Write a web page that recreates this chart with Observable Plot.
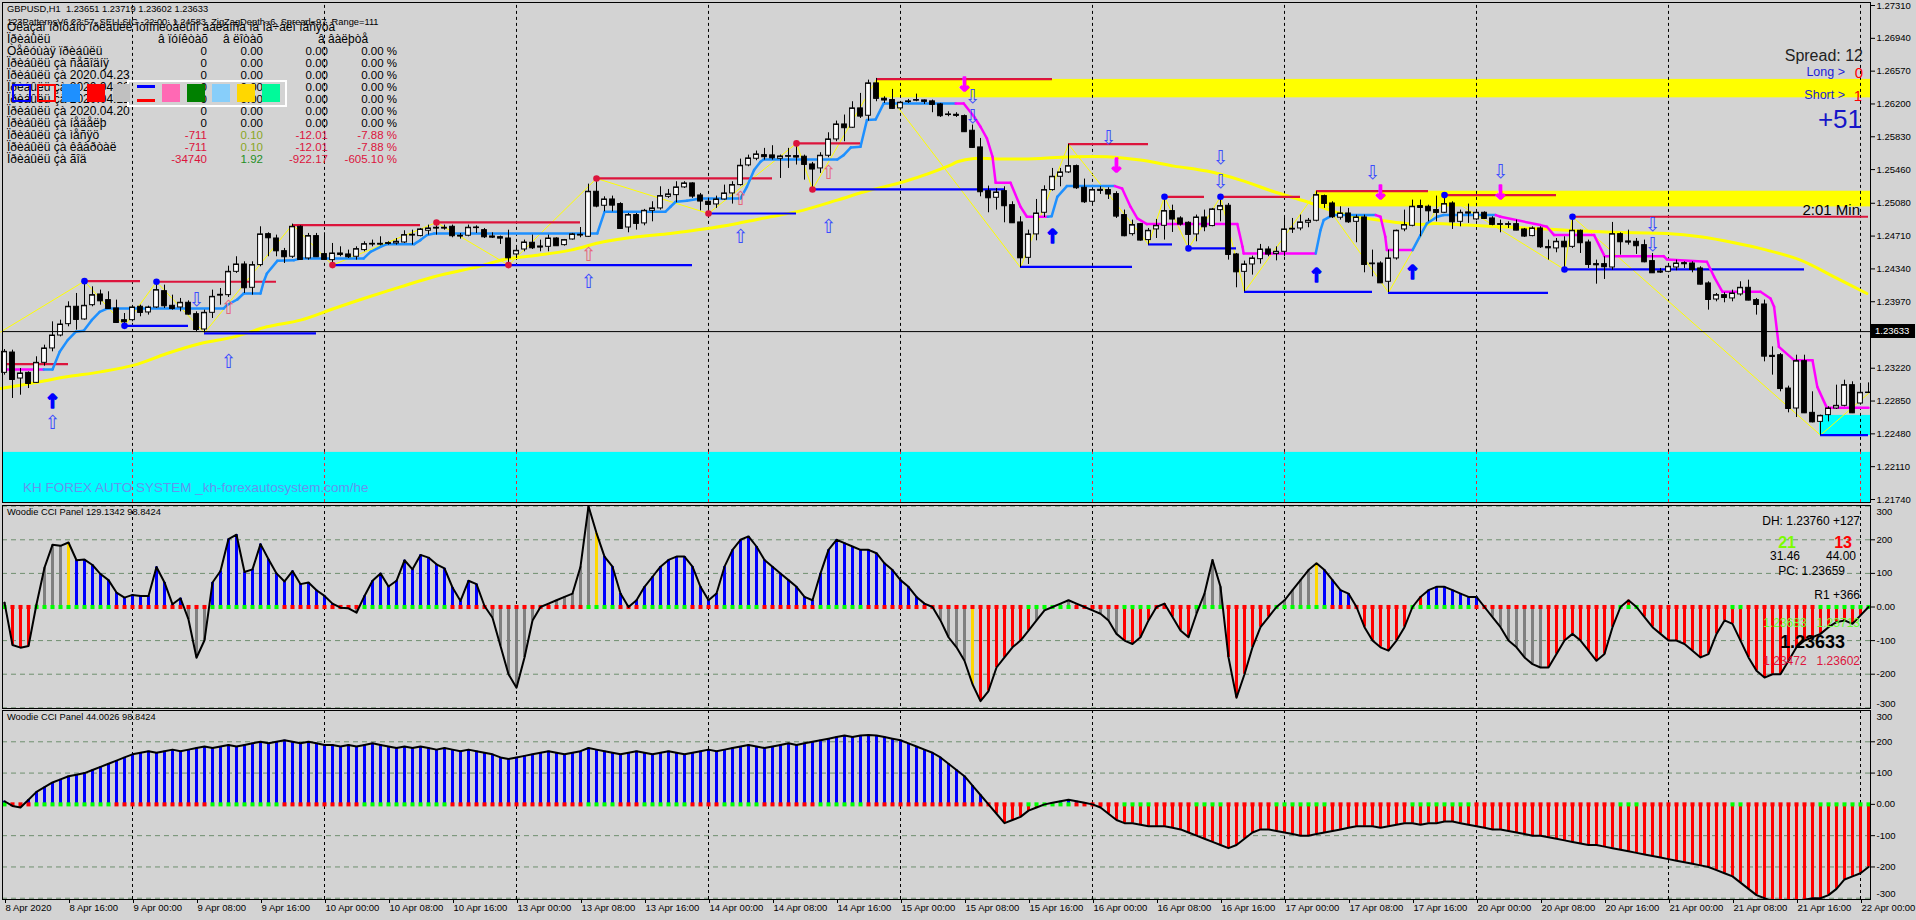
<!DOCTYPE html>
<html>
<head>
<meta charset="utf-8">
<script src="https://cdn.jsdelivr.net/npm/d3@7"></script>
<script src="https://cdn.jsdelivr.net/npm/@observablehq/plot@0.6"></script>
<style>
html,body{margin:0;padding:0;background:#d3d3d3;}
#wrap{position:relative;width:1916px;height:920px;background:#d3d3d3;overflow:hidden;font-family:"Liberation Sans",Arial,sans-serif;}
#wrap svg{position:absolute;left:0;}
.t{position:absolute;white-space:pre;line-height:1;}
.b{position:absolute;box-sizing:border-box;}
</style>
</head>
<body>
<div id="wrap"></div>
<script>
// ---------------- DATA ----------------
const opens = [1.23168,1.23397,1.23104,1.23168,1.23055,1.23281,1.23443,1.23589,1.23717,1.23913,
1.23770,1.23931,1.24052,1.23988,1.23894,1.23762,1.23762,1.23913,1.23849,1.23905,
1.24089,1.23924,1.23905,1.23958,1.23830,1.23657,1.23845,1.24040,1.24044,1.24307,
1.24390,1.24127,1.24383,1.24732,1.24683,1.24540,1.24477,1.24815,1.24458,1.24710,
1.24507,1.24439,1.24514,1.24503,1.24477,1.24552,1.24616,1.24623,1.24623,1.24627,
1.24638,1.24717,1.24710,1.24770,1.24796,1.24804,1.24815,1.24714,1.24714,1.24800,
1.24777,1.24706,1.24698,1.24683,1.24503,1.24559,1.24635,1.24593,1.24589,1.24683,
1.24608,1.24672,1.24717,1.24702,1.25210,1.25052,1.25123,1.25071,1.24807,1.24947,
1.24853,1.24995,1.25022,1.25153,1.25172,1.25259,1.25304,1.25168,1.25097,1.25067,
1.25123,1.25191,1.25285,1.25507,1.25582,1.25623,1.25620,1.25582,1.25608,1.25612,
1.25605,1.25518,1.25473,1.25616,1.25800,1.25969,1.25932,1.26150,1.26067,1.26432,
1.26259,1.26244,1.26150,1.26221,1.26240,1.26240,1.26229,1.26195,1.26075,1.26078,
1.26063,1.25898,1.25710,1.25217,1.25142,1.25217,1.25059,1.24864,1.24465,1.24729,
1.24973,1.25229,1.25379,1.25428,1.25499,1.25255,1.25097,1.25232,1.25229,1.25184,
1.24947,1.24732,1.24845,1.24665,1.24785,1.24826,1.24992,1.24909,1.24860,1.24729,
1.24920,1.24823,1.25003,1.25052,1.24503,1.24307,1.24390,1.24450,1.24559,1.24507,
1.24533,1.24785,1.24796,1.24860,1.24883,1.25161,1.25078,1.24917,1.24965,1.24871,
1.24920,1.24401,1.24401,1.24195,1.24458,1.24785,1.24826,1.25048,1.25041,1.25003,
1.24973,1.25078,1.24871,1.24977,1.24898,1.24973,1.24909,1.24845,1.24845,1.24845,
1.24785,1.24710,1.24796,1.24586,1.24571,1.24646,1.24589,1.24770,1.24638,1.24394,
1.24394,1.24356,1.24732,1.24650,1.24646,1.24608,1.24428,1.24311,1.24307,1.24356,
1.24405,1.24401,1.24345,1.24176,1.23995,1.24044,1.24007,1.24052,1.24127,1.23988,
1.23939,1.23360,1.23367,1.22991,1.22766,1.23300,1.22717,1.22615,1.22691,1.22766,
1.22796,1.23029,1.22822,1.22943];
const highs = [1.23431,1.23424,1.23217,1.23179,1.23349,1.23480,1.23743,1.23762,1.23969,1.24063,
1.24195,1.24138,1.24101,1.24082,1.23988,1.23837,1.23920,1.23931,1.23920,1.24195,
1.24157,1.24044,1.24007,1.23980,1.23856,1.23875,1.24101,1.24119,1.24371,1.24477,
1.24420,1.24420,1.24815,1.24747,1.24721,1.24571,1.24845,1.24826,1.24740,1.24740,
1.24747,1.24627,1.24589,1.24552,1.24589,1.24646,1.24665,1.24702,1.24646,1.24683,
1.24770,1.24777,1.24796,1.24834,1.24871,1.24834,1.24834,1.24740,1.24834,1.24826,
1.24796,1.24747,1.24710,1.24777,1.24589,1.24665,1.24721,1.24665,1.24721,1.24691,
1.24672,1.24740,1.24807,1.25296,1.25360,1.25153,1.25161,1.25086,1.24965,1.24965,
1.25011,1.25097,1.25266,1.25236,1.25323,1.25323,1.25311,1.25191,1.25135,1.25161,
1.25285,1.25323,1.25578,1.25623,1.25669,1.25699,1.25729,1.25623,1.25699,1.25755,
1.25623,1.25541,1.25650,1.25875,1.26007,1.26075,1.26225,1.26319,1.26469,1.26488,
1.26281,1.26364,1.26225,1.26251,1.26311,1.26244,1.26244,1.26206,1.26112,1.26101,
1.26075,1.25962,1.25811,1.25274,1.25247,1.25266,1.25097,1.24928,1.24777,1.25123,
1.25277,1.25473,1.25473,1.25744,1.25511,1.25353,1.25247,1.25266,1.25255,1.25210,
1.25003,1.24890,1.24853,1.24796,1.24898,1.25153,1.25059,1.24928,1.24871,1.24947,
1.25003,1.25022,1.25153,1.25078,1.24514,1.24428,1.24484,1.24616,1.24589,1.24589,
1.24920,1.24909,1.24947,1.24909,1.25210,1.25172,1.25097,1.25041,1.25022,1.24947,
1.24947,1.24552,1.24420,1.24552,1.24778,1.25003,1.25116,1.25116,1.25059,1.25161,
1.25184,1.25097,1.25003,1.25071,1.24995,1.24984,1.24928,1.24890,1.24871,1.24890,
1.24796,1.24815,1.24815,1.24665,1.24683,1.24702,1.24928,1.24778,1.24665,1.24439,
1.24477,1.24864,1.24747,1.24777,1.24683,1.24665,1.24514,1.24345,1.24401,1.24439,
1.24420,1.24420,1.24364,1.24195,1.24063,1.24070,1.24101,1.24195,1.24213,1.24007,
1.23988,1.23461,1.23386,1.23018,1.23367,1.23367,1.22954,1.22691,1.22785,1.23029,
1.23085,1.23067,1.23029,1.23055];
const lows = [1.23142,1.22879,1.22916,1.22991,1.23048,1.23243,1.23405,1.23574,1.23687,1.23649,
1.23762,1.23913,1.23931,1.23883,1.23725,1.23698,1.23743,1.23800,1.23819,1.23894,
1.23894,1.23875,1.23856,1.23819,1.23631,1.23619,1.23781,1.23931,1.24018,1.24289,
1.24063,1.24044,1.24364,1.24477,1.24477,1.24401,1.24458,1.24439,1.24439,1.24469,
1.24439,1.24375,1.24477,1.24458,1.24439,1.24533,1.24589,1.24601,1.24608,1.24608,
1.24627,1.24608,1.24702,1.24721,1.24721,1.24777,1.24691,1.24676,1.24702,1.24740,
1.24683,1.24683,1.24616,1.24383,1.24458,1.24533,1.24559,1.24533,1.24533,1.24597,
1.24597,1.24665,1.24691,1.24695,1.25029,1.24984,1.24984,1.24789,1.24747,1.24777,
1.24826,1.24871,1.25003,1.25135,1.25086,1.25247,1.25135,1.24995,1.24965,1.25022,
1.25116,1.25071,1.25274,1.25492,1.25560,1.25567,1.25567,1.25360,1.25473,1.25511,
1.25341,1.25236,1.25417,1.25593,1.25774,1.25774,1.25924,1.26037,1.26007,1.26225,
1.26206,1.26139,1.26139,1.26206,1.26225,1.26195,1.26101,1.26048,1.26056,1.26048,
1.25879,1.25699,1.25153,1.24973,1.25003,1.24860,1.24853,1.24356,1.24390,1.24657,
1.24920,1.25217,1.25266,1.25417,1.25236,1.25078,1.25078,1.25180,1.25123,1.24909,
1.24702,1.24710,1.24653,1.24608,1.24683,1.24665,1.24751,1.24823,1.24571,1.24646,
1.24759,1.24815,1.24871,1.24439,1.24127,1.24082,1.24270,1.24394,1.24477,1.24431,
1.24477,1.24740,1.24770,1.24804,1.24871,1.25022,1.24909,1.24890,1.24853,1.24635,
1.24296,1.24251,1.24176,1.24074,1.24439,1.24759,1.24815,1.24702,1.24871,1.24871,
1.24965,1.24785,1.24815,1.24853,1.24883,1.24898,1.24826,1.24747,1.24796,1.24770,
1.24695,1.24702,1.24571,1.24439,1.24522,1.24334,1.24571,1.24514,1.24345,1.24168,
1.24221,1.24326,1.24495,1.24608,1.24503,1.24409,1.24289,1.24289,1.24296,1.24319,
1.24345,1.24296,1.24157,1.23875,1.23969,1.23958,1.23969,1.24033,1.23980,1.23819,
1.23292,1.23142,1.22954,1.22717,1.22664,1.22709,1.22604,1.22465,1.22615,1.22755,
1.22785,1.22709,1.22803,1.22935];
const closes = [1.23405,1.23093,1.23161,1.23048,1.23281,1.23443,1.23589,1.23713,1.23913,1.23770,
1.23924,1.24044,1.23980,1.23894,1.23736,1.23743,1.23905,1.23849,1.23905,1.24101,
1.23924,1.23894,1.23958,1.23830,1.23657,1.23845,1.24025,1.24048,1.24307,1.24390,
1.24127,1.24383,1.24729,1.24691,1.24544,1.24477,1.24815,1.24447,1.24710,1.24477,
1.24447,1.24514,1.24503,1.24477,1.24563,1.24619,1.24623,1.24619,1.24631,1.24646,
1.24721,1.24725,1.24785,1.24796,1.24804,1.24800,1.24714,1.24710,1.24804,1.24807,
1.24702,1.24698,1.24687,1.24465,1.24544,1.24638,1.24578,1.24586,1.24683,1.24601,
1.24665,1.24729,1.24725,1.25210,1.25048,1.25123,1.25059,1.24796,1.24947,1.24853,
1.24995,1.25022,1.25161,1.25180,1.25259,1.25304,1.25161,1.25105,1.25067,1.25123,
1.25191,1.25285,1.25503,1.25586,1.25631,1.25605,1.25593,1.25608,1.25612,1.25601,
1.25518,1.25466,1.25616,1.25800,1.25969,1.25932,1.26150,1.26063,1.26432,1.26263,
1.26244,1.26150,1.26214,1.26229,1.26244,1.26229,1.26195,1.26067,1.26082,1.26071,
1.25887,1.25710,1.25210,1.25142,1.25202,1.25052,1.24860,1.24465,1.24729,1.24965,
1.25229,1.25379,1.25428,1.25499,1.25255,1.25097,1.25229,1.25225,1.25184,1.24935,
1.24714,1.24834,1.24665,1.24770,1.24826,1.24992,1.24902,1.24845,1.24729,1.24920,
1.24815,1.25011,1.25048,1.24503,1.24307,1.24390,1.24458,1.24559,1.24507,1.24533,
1.24785,1.24793,1.24864,1.24883,1.25172,1.25078,1.24928,1.24965,1.24871,1.24920,
1.24390,1.24398,1.24183,1.24458,1.24770,1.24834,1.25041,1.25033,1.24995,1.24977,
1.25071,1.24871,1.24973,1.24969,1.24973,1.24909,1.24842,1.24842,1.24842,1.24777,
1.24710,1.24796,1.24589,1.24578,1.24646,1.24589,1.24770,1.24635,1.24390,1.24386,
1.24364,1.24732,1.24646,1.24642,1.24601,1.24420,1.24296,1.24304,1.24364,1.24401,
1.24398,1.24334,1.24168,1.23995,1.24044,1.24018,1.24063,1.24127,1.23988,1.23939,
1.23356,1.23352,1.22991,1.22766,1.23300,1.22717,1.22615,1.22683,1.22766,1.22796,
1.23029,1.22717,1.22943,1.22946];

// time axis (bar index of each label)
const xTickBars = [0,8,16,24,32,40,48,56,64,72,80,88,96,104,112,120,128,136,144,152,160,168,176,184,192,200,208,216,224,232];
const xTickLabels = ["8 Apr 2020","8 Apr 16:00","9 Apr 00:00","9 Apr 08:00","9 Apr 16:00","10 Apr 00:00","10 Apr 08:00","10 Apr 16:00","13 Apr 00:00","13 Apr 08:00","13 Apr 16:00","14 Apr 00:00","14 Apr 08:00","14 Apr 16:00","15 Apr 00:00","15 Apr 08:00","15 Apr 16:00","16 Apr 00:00","16 Apr 08:00","16 Apr 16:00","17 Apr 00:00","17 Apr 08:00","17 Apr 16:00","20 Apr 00:00","20 Apr 08:00","20 Apr 16:00","21 Apr 00:00","21 Apr 08:00","21 Apr 16:00","22 Apr 00:00"];
const dayBars = [16,40,64,88,112,136,160,184,208,232];
const priceTicks = [1.2731,1.2694,1.2657,1.2620,1.2583,1.2546,1.2508,1.2471,1.2434,1.2397,1.2322,1.2285,1.2248,1.2211,1.2174];
const bid = 1.23633;

// moving average (thick yellow)
const maBars = [-0.5,3.7,7.8,12,16.2,20.3,24.5,28.7,32.8,37,41.2,45.3,49.5,53.7,59.5,62.4,66.6,70.75,74.9,79.1,83.25,87.4,91.6,95.75,99.9,104.1,108.25,112.4,118.25,119.1,121.2,125.3,129.5,133.7,137.8,142,146.2,150.3,154.5,158.7,162.8,167,171.2,177,178.7,182.8,187,191.2,195.3,199.5,203.7,207.8,212,216.2,220.3,224.5,228.7,232.8];
const maVals = [1.22991,1.23055,1.23123,1.23179,1.23255,1.23386,1.23499,1.23574,1.23687,1.23762,1.23894,1.24018,1.24138,1.24251,1.24371,1.24447,1.24495,1.24552,1.24646,1.24702,1.24740,1.24789,1.24853,1.24928,1.25003,1.25116,1.25229,1.25323,1.25511,1.25548,1.25586,1.25578,1.25586,1.25605,1.25605,1.25567,1.25499,1.25443,1.25341,1.25210,1.25097,1.24965,1.24898,1.24842,1.24853,1.24834,1.24815,1.24796,1.24777,1.24759,1.24747,1.24740,1.24702,1.24635,1.24552,1.24439,1.24251,1.24063];

// zigzag (thin yellow)
const zzBars = [-0.5,10,15,19,25,36,41,54,63,74,88,99,101,109,127,133,143,145,148,152,155,164,173,180,195,196,227,233];
const zzVals = [1.23628,1.24202,1.23698,1.24195,1.23619,1.24841,1.24383,1.24864,1.24383,1.25360,1.24965,1.25755,1.25236,1.26477,1.24356,1.25744,1.24616,1.25153,1.24571,1.25153,1.24082,1.25210,1.24074,1.25172,1.24334,1.24928,1.22465,1.22935];

// support / resistance segments
const lvX1 = [-0.1,10,19,36,54,74,99,109,133,145,152,164,180,196,15,25,41,88,101,127,143,148,155,173,195,227];
const lvX2 = [8,17,34,52,72,96,107,131,143,150,162,178,194,233,23,39,86,99,125,141,146,154,171,193,225,233];
const lvPrice = [1.23266,1.24202,1.24195,1.24834,1.24864,1.25360,1.25755,1.26481,1.25748,1.25153,1.25153,1.25217,1.25172,1.24928,1.23698,1.23612,1.24383,1.24965,1.25236,1.24364,1.24616,1.24571,1.24082,1.24070,1.24334,1.22465];
const lvKind = ["res","res","res","res","res","res","res","res","res","res","res","res","res","res","sup","sup","sup","sup","sup","sup","sup","sup","sup","sup","sup","sup"];
const dotBars = [10,15,19,41,54,63,74,88,99,101,145,148,152,180,195,196];
const dotVals = [1.24202,1.23698,1.24195,1.24383,1.24864,1.24383,1.25360,1.24965,1.25755,1.25236,1.25153,1.24571,1.25153,1.25172,1.24334,1.24928];
const dotKind = ["blue","blue","blue","red","red","red","red","red","red","red","blue","blue","blue","blue","blue","blue"];

// trailing stop line knots
const stBar = [-0.25,
4.9,6,6.9,7.9,8.9,9.9,10.9,11.9,12.9,27.4,27.8,29.1,29.9,32,32.4,32.8,34.1,36.2,37,44.9,45.75,47,47.8,51.2,52,52.8,53.7,74.1,75,82.6,83.25,83.9,85.3,87,92,92.8,93.7,94.5,94.9,104.1,104.9,105.8,107,107.8,108.9,109.9,
118.9,119.9,121.2,122,122.8,123.5,123.9,125.75,127,127.8,
130.4,130.9,131.6,132.8,
138.8,139.7,140.75,141.6,142.8,154.1,154.75,154.9,
163.9,164.5,164.9,166,
171.4,172,172.6,172.8,
176,177,177.8,179.1,179.9,
186.4,187,192,192.8,193.7,198.7,200,207.4,207.8,212.8,213.7,214.75,219.5,220.75,221.2,221.8,223.7,226,226.6,227.8,233];
const stVal = [1.23206,
1.23206,1.23206,1.23405,1.23537,1.23631,1.23642,1.23762,1.23856,1.23894,1.23894,1.23931,1.23995,1.24063,1.24063,1.24195,1.24289,1.24431,1.24439,1.24458,1.24458,1.24533,1.24589,1.24619,1.24619,1.24665,1.24721,1.24740,1.24740,1.24984,1.24984,1.25041,1.25097,1.25108,1.25135,1.25135,1.25266,1.25454,1.25548,1.25574,1.25574,1.25623,1.25710,1.25717,1.26018,1.26026,1.26206,
1.26206,1.26206,1.26056,1.25943,1.25811,1.25605,1.25311,1.25311,1.25041,1.24928,
1.24928,1.24935,1.25153,1.25274,
1.25274,1.25247,1.25041,1.24909,1.24845,1.24845,1.24589,1.24514,
1.24514,1.24777,1.24890,1.24947,
1.24947,1.24928,1.24702,1.24552,
1.24552,1.24721,1.24853,1.24928,1.24947,
1.24947,1.24928,1.24834,1.24815,1.24721,1.24721,1.24484,1.24484,1.24447,1.24420,1.24251,1.24082,1.24082,1.24007,1.23913,1.23461,1.23311,1.23311,1.23010,1.22773,1.22773];
const stUpFrom = [4.9,130.4,163.9,176];
const stUpTo = [118.9,138.8,171.4,186.4];

// shaded zones
const zoneX1 = [-0.25,109,163.9,226.9];
const zoneLo = [1.21706,1.26269,1.25039,1.22462];
const zoneHi = [1.22271,1.26477,1.25216,1.22688];
const zoneKind = ["cyan","yellow","yellow","cyan"];

// signal arrows
const arrBars = [6,28,73,92,103, 28,73,92,103, 6,131,164,176, 24,121,121,138,152,152,171,187,206,206, 120,139,172,187];
const arrVals = [1.22609,1.23286,1.24189,1.24697,1.24810, 1.23896,1.24494,1.25126,1.25420, 1.22835,1.24697,1.24257,1.24291, 1.23986,1.26277,1.26051,1.25815,1.25589,1.25318,1.25420,1.25431,1.24833,1.24607, 1.26413,1.25499,1.25194,1.25194];
const arrKind = ["U","U","U","U","U", "P","P","P","P", "S","S","S","S", "D","D","D","D","D","D","D","D","D","D", "M","M","M","M"];

// Woodie CCI panel 1
const cci1 = [13,-113,-121,-116,8,117,185,182,192,139,
141,125,98,80,43,28,36,33,33,119,
73,8,26,-37,-151,-99,73,107,202,215,
104,112,187,142,100,76,107,68,73,50,
33,10,-2,-4,-17,33,78,100,61,78,
139,112,155,147,127,115,58,18,78,68,
3,-32,-116,-200,-240,-150,-40,0,10,20,
30,40,120,300,220,150,120,40,0,20,
60,90,120,140,150,150,120,60,20,40,
120,170,200,210,180,140,120,100,80,60,
30,20,100,170,200,190,180,170,170,160,
130,110,80,60,30,10,0,-40,-90,-120,
-160,-230,-280,-250,-180,-150,-120,-100,-70,-40,
-10,0,10,20,10,0,-10,-20,-40,-80,
-100,-110,-90,-40,0,10,-30,-70,-90,-20,
40,140,60,-150,-270,-200,-120,-60,-30,0,
20,50,80,110,130,110,80,50,40,0,
-60,-100,-120,-130,-100,-60,0,30,50,60,
60,50,40,30,30,0,-30,-60,-100,-120,
-150,-170,-180,-180,-140,-100,-80,-100,-130,-160,
-140,-60,0,20,0,-30,-60,-80,-100,-100,
-110,-130,-150,-140,-80,-40,-50,-100,-150,-190,
-210,-200,-200,-160,-120,-100,-90,-80,-60,-45,
-40,-50,-25,0];
const hist1Start = [0,1,4,8,9,23,26,42,45,60,74,75,117,121,122,129,140,149,153,159,164,165,170,178,186,193];
const hist1Kind = ["gray","red","gray","gold","blue","gray","blue","gray","blue","gray","gold","blue","gray","gold","red","gray","red","gray","red","gray","gold","blue","red","blue","gray","red"];
// Woodie CCI panel 2
const cci2 = [10,-5,-10,15,40,55,70,80,90,95,100,
110,120,130,140,150,160,165,170,165,170,
175,170,175,180,185,180,185,190,185,190,
195,200,195,200,205,200,195,200,195,190,
190,185,190,185,190,195,190,185,180,185,
180,185,180,175,180,175,170,175,170,165,
160,150,145,150,155,160,165,170,165,160,
165,170,180,175,170,165,160,165,170,165,
160,165,170,165,160,165,170,175,170,175,
180,185,190,185,180,185,190,195,190,195,
200,205,210,215,220,215,220,222,220,215,
210,205,195,185,175,165,150,130,110,90,
60,30,0,-30,-60,-50,-40,-20,-10,0,
5,10,15,10,5,0,-10,-30,-50,-60,
-60,-65,-70,-70,-70,-75,-80,-90,-100,-110,
-120,-130,-140,-130,-110,-90,-80,-80,-85,-90,
-95,-100,-100,-95,-90,-85,-80,-75,-70,-70,
-70,-75,-70,-65,-60,-60,-65,-60,-60,-55,
-55,-60,-65,-70,-75,-80,-80,-85,-90,-95,
-100,-100,-105,-110,-115,-120,-125,-130,-130,-135,
-140,-145,-150,-155,-160,-165,-170,-175,-180,-185,
-190,-195,-200,-210,-220,-230,-250,-270,-290,-300,
-310,-320,-320,-310,-305,-300,-300,-290,-270,-240,-230,-220,-200];
// zero-line markers (both panels)
const zeroStart = [0,1,4,14,26,35,45,56,73,77,80,86,90,95,102,108,128,134,140,144,149,153,159,166,176,184,202,205,216,218,227];
const zeroKind = ["g","r","g","r","g","r","g","r","g","r","g","r","g","r","g","r","g","r","g","r","g","r","g","r","g","r","g","r","g","r","g"];
const cciLevels = [300,200,100,-100,-200,-300];
const cciInnerTicks = [200,100,0,-100,-200];
const cciTop = 300;
const cciBottom = -300;

// info table
const tableLabels = ["Òåêóùàÿ ïðèáûëü","Ïðèáûëü çà ñåãîäíÿ","Ïðèáûëü çà 2020.04.23","Ïðèáûëü çà 2020.04.22","Ïðèáûëü çà 2020.04.21","Ïðèáûëü çà 2020.04.20","Ïðèáûëü çà íåäåëþ","Ïðèáûëü çà ìåñÿö","Ïðèáûëü çà êâàðòàë","Ïðèáûëü çà ãîä"];
const tablePoints = ["0","0","0","0","0","0","0","-711","-711","-34740"];
const tableLots = ["0.00","0.00","0.00","0.00","0.00","0.00","0.00","0.10","0.10","1.92"];
const tableMoney = ["0.00","0.00","0.00","0.00","0.00","0.00","0.00","-12.01","-12.01","-922.17"];
const tablePct = ["0.00 %","0.00 %","0.00 %","0.00 %","0.00 %","0.00 %","0.00 %","-7.88 %","-7.88 %","-605.10 %"];

// ---------------- BUILD ----------------
const FONT = "'Liberation Sans', Arial, sans-serif";
const wrap = document.getElementById("wrap");
const X_DOMAIN = [-0.25, 233.25];
const Y_MAIN = [1.21706, 1.27344];
const COL = {blue:"#0000FF", red:"#FF0000", gray:"#808080", gold:"#FFD700", res:"#DC143C", sup:"#0000FF", cyan:"#00FFFF", yellow:"#FFFF00", g:"#00FF00", r:"#FF0000"};

function expandRuns(starts, kinds, n) {
  const out = []; let k = 0;
  for (let i = 0; i < n; i++) { while (k + 1 < starts.length && i >= starts[k + 1]) k++; out.push(kinds[k]); }
  return out;
}

const candles = opens.map((o, i) => ({i, o, h: highs[i], l: lows[i], c: closes[i]}));
const zones = zoneX1.map((x1, k) => ({x1, lo: zoneLo[k], hi: zoneHi[k], fill: COL[zoneKind[k]]}));
const maData = maBars.map((b, k) => ({b, v: maVals[k]}));
const zzData = zzBars.map((b, k) => ({b, v: zzVals[k]}));
const lvData = lvX1.map((x1, k) => ({x1, x2: lvX2[k], y: lvPrice[k], col: COL[lvKind[k]]}));
const dotData = dotBars.map((b, k) => ({b, v: dotVals[k], col: dotKind[k] === "red" ? "#DC143C" : "#0000FF"}));
const isUp = b => stUpFrom.some((f, j) => b >= f && b < stUpTo[j]);
const stLinks = stBar.slice(0, -1).map((b, k) => ({x1: b, x2: stBar[k + 1], y1: stVal[k], y2: stVal[k + 1], col: isUp(b) ? "#1E90FF" : "#FF00FF"}));
const arrows = arrBars.map((b, k) => ({b, v: arrVals[k], kind: arrKind[k]}));
const arrowStyle = {
  U: {text: "⇧", fill: "#3a4cff", size: 19, weight: "normal"},
  P: {text: "⇧", fill: "#e5657a", size: 19, weight: "normal"},
  D: {text: "⇩", fill: "#3a4cff", size: 19, weight: "normal"},
  S: {text: "↑", fill: "#0000FF", size: 19, weight: "bold"},
  M: {text: "↓", fill: "#FF00FF", size: 19, weight: "bold"}
};
const arrowMarks = Object.keys(arrowStyle).map(k => {
  const s = arrowStyle[k];
  return Plot.text(arrows.filter(d => d.kind === k), {x: "b", y: "v", text: () => s.text, fill: s.fill, fontSize: s.size, fontWeight: s.weight, fontFamily: "DejaVu Sans", stroke: s.weight === "bold" ? s.fill : "none", strokeWidth: s.weight === "bold" ? 1.6 : 0});
});

const mainPlot = Plot.plot({
  width: 1916, height: 504,
  marginLeft: 2, marginRight: 46, marginTop: 2, marginBottom: 2,
  x: {domain: X_DOMAIN, axis: null},
  y: {domain: Y_MAIN},
  color: {type: "identity"},
  style: {background: "transparent", fontFamily: FONT, fontSize: "9.5px", color: "#000", overflow: "visible"},
  marks: [
    Plot.rect(zones, {x1: "x1", x2: () => X_DOMAIN[1], y1: "lo", y2: "hi", fill: "fill"}),
    Plot.ruleX(dayBars, {x: d => d, y1: () => zoneHi[0], y2: () => Y_MAIN[1], stroke: "#000", strokeDasharray: "3,3"}),
    Plot.ruleX(dayBars, {x: d => d, y1: () => Y_MAIN[0], y2: () => zoneHi[0], stroke: "#e8283c", strokeDasharray: "3,3"}),
    Plot.line(maData, {x: "b", y: "v", stroke: "#FFFF00", strokeWidth: 3, curve: "catmull-rom"}),
    Plot.line(zzData, {x: "b", y: "v", stroke: "#FFFF00", strokeWidth: 1}),
    Plot.ruleY(lvData, {x1: "x1", x2: "x2", y: "y", stroke: "col", strokeWidth: 2.2}),
    Plot.link(stLinks, {x1: "x1", x2: "x2", y1: "y1", y2: "y2", stroke: "col", strokeWidth: 2.5, strokeLinecap: "round"}),
    Plot.ruleX(candles, {x: "i", y1: "l", y2: "h", stroke: "#000", strokeWidth: 1}),
    Plot.rect(candles, {x1: d => d.i - 0.3, x2: d => d.i + 0.3, y1: "o", y2: "c", fill: d => d.c >= d.o ? "#FFFFFF" : "#000000", stroke: "#000", strokeWidth: 1}),
    Plot.ruleY(candles, {x1: d => d.i - 0.35, x2: d => d.i + 0.35, y: "c", stroke: "#000", strokeWidth: 1}),
    Plot.dot(dotData, {x: "b", y: "v", r: 3.3, fill: "col"}),
    ...arrowMarks,
    Plot.ruleY([bid], {stroke: "#000", strokeWidth: 1}),
    Plot.frame({stroke: "#000"}),
    Plot.axisY({anchor: "right", ticks: priceTicks, tickFormat: d => d.toFixed(5), tickSize: 4, tickPadding: 2, fontSize: 9.5, label: null})
  ]
});
mainPlot.style.top = "0px";
wrap.appendChild(mainPlot);

function cciPanel(vals, histCols, zeroCols, height, mt, mb, yDom, withX) {
  const data = vals.map((v, i) => ({i, v, hc: histCols[i], dc: zeroCols[i]}));
  const fmt = d => d === 0 ? "0.00" : String(d);
  const marks = [
    Plot.ruleY(cciLevels, {stroke: "#6f8f6f", strokeDasharray: "5,4"}),
    Plot.ruleX(dayBars, {stroke: "#000", strokeDasharray: "3,3"}),
    Plot.ruleX(data, {x: "i", y1: () => 0, y2: "v", stroke: "hc", strokeWidth: 3, clip: true}),
    Plot.dot(data, {x: "i", y: () => 0, symbol: "square", r: 2.3, fill: "dc", stroke: "none"}),
    Plot.line(data, {x: "i", y: "v", stroke: "#000", strokeWidth: 2, clip: true}),
    Plot.frame({stroke: "#000"}),
    Plot.axisY({anchor: "right", ticks: cciInnerTicks, tickFormat: fmt, tickSize: 4, tickPadding: 2, fontSize: 9.5, label: null}),
    Plot.axisY({anchor: "right", ticks: [cciTop], tickFormat: fmt, tickSize: 0, tickPadding: 6, dy: 6, fontSize: 9.5, label: null}),
    Plot.axisY({anchor: "right", ticks: [cciBottom], tickFormat: fmt, tickSize: 0, tickPadding: 6, dy: -4, fontSize: 9.5, label: null})
  ];
  if (withX) marks.push(Plot.axisX({anchor: "bottom", ticks: xTickBars, tickFormat: d => xTickLabels[xTickBars.indexOf(d)], tickSize: 4, tickPadding: 1, textAnchor: "start", dx: 1, fontSize: 9.5, label: null}));
  return Plot.plot({
    width: 1916, height, marginLeft: 2, marginRight: 46, marginTop: mt, marginBottom: mb,
    x: withX ? {domain: X_DOMAIN} : {domain: X_DOMAIN, axis: null},
    y: {domain: yDom},
    color: {type: "identity"},
    style: {background: "transparent", fontFamily: FONT, fontSize: "9.5px", color: "#000", overflow: "visible"},
    marks
  });
}
const zeroCols = expandRuns(zeroStart, zeroKind, cci1.length).map(k => COL[k]);
const hist1Cols = expandRuns(hist1Start, hist1Kind, cci1.length).map(k => COL[k]);
const hist2Cols = cci2.map(v => v >= 0 ? COL.blue : COL.red);
const p1 = cciPanel(cci1, hist1Cols, zeroCols, 205, 1, 1, [-302, 302], false);
p1.style.top = "504px"; wrap.appendChild(p1);
const p2 = cciPanel(cci2, hist2Cols, zeroCols, 212, 2, 21, [-304, 300], true);
p2.style.top = "708px"; wrap.appendChild(p2);

// ---------------- TEXT OVERLAYS ----------------
function txt(x, y, s, o = {}) {
  const d = document.createElement("div");
  d.className = "t";
  d.textContent = s;
  const size = o.size || 9.5;
  d.style.fontSize = size + "px";
  d.style.color = o.color || "#000";
  d.style.fontWeight = o.weight || "normal";
  d.style.fontFamily = o.font || FONT;
  d.style.top = (y - size * 0.56) + "px";
  if (o.anchor === "end") d.style.right = (1916 - x) + "px"; else d.style.left = x + "px";
  wrap.appendChild(d);
  return d;
}
function box(x, y, w, h, css) {
  const d = document.createElement("div");
  d.className = "b";
  d.style.cssText += `left:${x}px;top:${y}px;width:${w}px;height:${h}px;` + css;
  wrap.appendChild(d);
}

// bid price tag
const yBid = mainPlot.scale("y").apply(bid);
box(1871, yBid - 7, 44, 14, "background:#000;");
txt(1875, yBid, bid.toFixed(5), {size: 9.5, color: "#fff"});

// header lines
txt(7, 10, "GBPUSD,H1  1.23651 1.23719 1.23602 1.23633", {size: 9.3});
txt(7, 23, "123PatternsV6 23:57, SELLSIG -22:00: 1.24583, ZigZagDepth=6, Spread=97  Range=111", {size: 9.3});
txt(7, 28, "Óêàçàí ïðîöåíò ïðèáûëè îòíîñèòåëüíî áàëàíñà íà íà÷àëî ìåñÿöà", {size: 12});
txt(7, 40, "Ïðèáûëü", {size: 12});
txt(208, 40, "â ïóíêòàõ", {size: 12, anchor: "end"});
txt(263, 40, "â ëîòàõ", {size: 12, anchor: "end"});
txt(318, 40, "â âàëþòå", {size: 12});
tableLabels.forEach((lab, k) => {
  const y = 52 + 12 * k;
  const neg = tablePoints[k].startsWith("-");
  txt(7, y, lab, {size: 12});
  txt(207, y, tablePoints[k], {size: 11.5, anchor: "end", color: neg ? "#DC143C" : "#000"});
  txt(263, y, tableLots[k], {size: 11.5, anchor: "end", color: neg ? (k === 9 ? "#1f8f1f" : "#8aa61e") : "#000"});
  txt(328, y, tableMoney[k], {size: 11.5, anchor: "end", color: neg ? "#DC143C" : "#000"});
  txt(397, y, tablePct[k], {size: 11.5, anchor: "end", color: neg ? "#DC143C" : "#000"});
});
// colour swatches panel
box(127, 80, 160, 27, "border:2px solid #fff;");
box(12, 84, 19, 18, "border:2px solid #0000FF;");
box(37, 84, 19, 18, "border:2px solid #FF0000;");
box(62, 84, 18, 18, "background:#1E90FF;");
box(87, 84, 18, 18, "background:#FF0000;");
box(113, 84, 17, 18, "background:#c0c0c0;");
box(137, 85, 18, 3, "background:#0000FF;");
box(137, 99, 18, 3, "background:#FF0000;");
box(162, 84, 18, 18, "background:#FF69B4;");
box(187, 84, 18, 18, "background:#008000;");
box(212, 84, 18, 18, "background:#87CEFA;");
box(237, 84, 18, 18, "background:#FFD700;");
box(262, 84, 18, 18, "background:#00FA9A;");

// right side main texts
txt(1863, 57, "Spread: 12", {size: 16, color: "#222", anchor: "end"});
txt(1845, 73, "Long >", {size: 12.5, color: "#1c1cd6", anchor: "end"});
txt(1863, 73, "0", {size: 15, color: "#FF0000", anchor: "end"});
txt(1845, 96, "Short >", {size: 12.5, color: "#1c1cd6", anchor: "end"});
txt(1862, 96, "1", {size: 15, color: "#FF0000", anchor: "end"});
txt(1862, 121, "+51", {size: 26, color: "#1515c8", anchor: "end"});
txt(1860, 210, "2:01 Min", {size: 15, color: "#000", anchor: "end"});
txt(23, 489, "KH FOREX AUTO SYSTEM _kh-forexautosystem.com/he", {size: 13.5, color: "#6495ED"});

// CCI panel texts
txt(7, 513, "Woodie CCI Panel 129.1342 98.8424", {size: 9.3});
txt(7, 718, "Woodie CCI Panel 44.0026 98.8424", {size: 9.3});
txt(1860, 522, "DH: 1.23760 +127", {size: 12, anchor: "end"});
txt(1796, 544, "21", {size: 16, weight: "bold", color: "#7CFC00", anchor: "end"});
txt(1852, 544, "13", {size: 16, weight: "bold", color: "#FF0000", anchor: "end"});
txt(1800, 557, "31.46", {size: 12, anchor: "end"});
txt(1856, 557, "44.00", {size: 12, anchor: "end"});
txt(1845, 572, "PC: 1.23659", {size: 12, anchor: "end"});
txt(1860, 596, "R1 +366", {size: 12, anchor: "end"});
txt(1860, 624, "1.23683   1.23713", {size: 12, color: "#66ff33", anchor: "end"});
txt(1845, 643, "1.23633", {size: 18, weight: "bold", anchor: "end"});
txt(1860, 662, "1.23472   1.23602", {size: 12, color: "#DC143C", anchor: "end"});
</script>
</body>
</html>
